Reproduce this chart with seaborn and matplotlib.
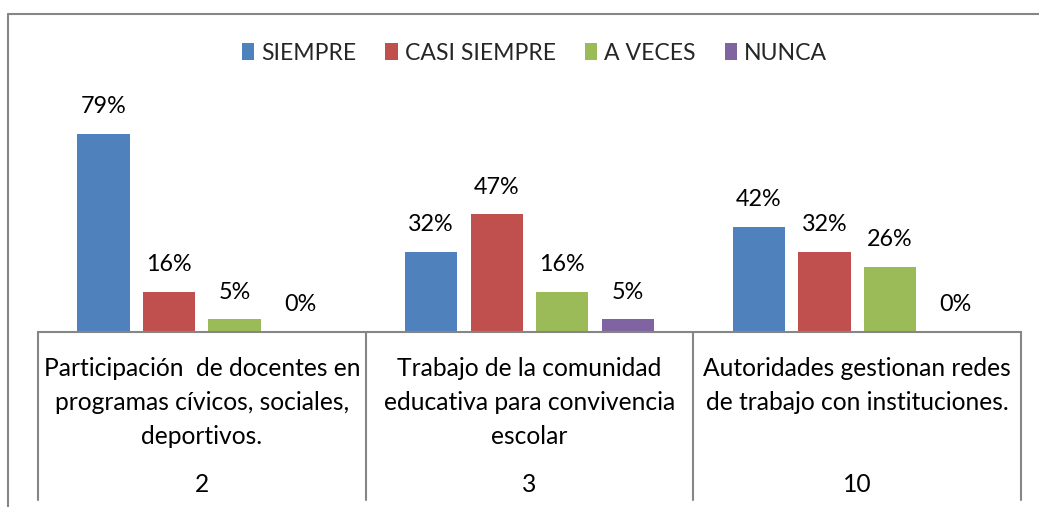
import matplotlib
matplotlib.use("Agg")
import matplotlib.pyplot as plt
import matplotlib.transforms as mtransforms
from matplotlib.patches import Rectangle
from matplotlib.lines import Line2D
import seaborn as sns
import pandas as pd

# Survey results per item (percent of respondents)
categories = [
    "Participación  de docentes en\nprogramas cívicos, sociales,\ndeportivos.",
    "Trabajo de la comunidad\neducativa para convivencia\nescolar",
    "Autoridades gestionan redes\nde trabajo con instituciones.",
]
item_numbers = ["2", "3", "10"]
series_names = ["SIEMPRE", "CASI SIEMPRE", "A VECES", "NUNCA"]
siempre = [79, 32, 42]
casi_siempre = [16, 47, 32]
a_veces = [5, 16, 26]
nunca = [0, 5, 0]
colors = ["#4F81BD", "#C0504D", "#9BBB59", "#8064A2"]

rows = []
for name, vals in zip(series_names, [siempre, casi_siempre, a_veces, nunca]):
    for cat, v in zip(categories, vals):
        rows.append({"categoria": cat, "respuesta": name, "valor": v})
df = pd.DataFrame(rows)

sns.set_theme(style="white")
plt.rcParams["font.family"] = ["Lato", "DejaVu Sans"]

W, H = 1039, 507
fig = plt.figure(figsize=(W / 100, H / 100), dpi=100)
ax_left, ax_right, ax_bottom_px = 38, 1021, 332
ymax = 90
px_per_unit = 2.506
ax_top_px = ax_bottom_px - ymax * px_per_unit
ax = fig.add_axes([ax_left / W, 1 - ax_bottom_px / H,
                   (ax_right - ax_left) / W, (ax_bottom_px - ax_top_px) / H])

sns.barplot(data=df, x="categoria", y="valor", hue="respuesta",
            hue_order=series_names, order=categories, palette=colors,
            width=0.8, gap=0.2, saturation=1, ax=ax, legend=False,
            edgecolor="none")

ax.set_xlim(-0.5, len(categories) - 0.5)
ax.set_ylim(0, ymax)
ax.set_xlabel("")
ax.set_ylabel("")
ax.set_xticks([])
ax.set_yticks([])
for s in ["top", "left", "right"]:
    ax.spines[s].set_visible(False)
ax.spines["bottom"].set_color("#868686")
ax.spines["bottom"].set_linewidth(1.5)

# Value labels above each bar
fs_val = 16.8
fs_cat = 17.7
fs_leg = 16.6
for cont in ax.containers:
    for bar in cont:
        h = bar.get_height()
        ax.annotate(f"{h:.0f}%", (bar.get_x() + bar.get_width() / 2, h),
                    xytext=(0, 19.5), textcoords="offset points",
                    ha="center", va="center", fontsize=fs_val, color="#000000")

# Two-level category axis
trans = mtransforms.blended_transform_factory(ax.transData, ax.transAxes)
axis_h_px = ax_bottom_px - ax_top_px


def px_to_axes(y_px):
    return -(y_px - ax_bottom_px) / axis_h_px


for i in range(len(categories) + 1):
    ax.add_line(Line2D([i - 0.5, i - 0.5], [0, px_to_axes(500)],
                       transform=trans, color="#868686", lw=1.5, clip_on=False))
for i, (cat, num) in enumerate(zip(categories, item_numbers)):
    for k, line in enumerate(cat.split("\n")):
        ax.text(i, px_to_axes(368 + 34 * k), line, transform=trans,
                ha="center", va="center", fontsize=fs_cat, color="#000000")
    ax.text(i, px_to_axes(484), num, transform=trans,
            ha="center", va="center", fontsize=fs_cat, color="#000000")

# Legend
handles = [Rectangle((0, 0), 1, 1, facecolor=c, edgecolor="none") for c in colors]
fig.legend(handles, series_names, loc="center", bbox_to_anchor=(534.5 / W, 1 - 53 / H),
           ncol=4, frameon=False, fontsize=fs_leg, handlelength=0.55, handleheight=0.7,
           handletextpad=0.3, columnspacing=1.25, borderaxespad=0)

# Chart frame (top and left edges)
frame_top = 1 - 13.5 / H
fig.add_artist(Line2D([8 / W, 1.0], [frame_top, frame_top], transform=fig.transFigure,
                      color="#868686", lw=1.5))
fig.add_artist(Line2D([8 / W, 8 / W], [0.0, frame_top], transform=fig.transFigure,
                      color="#868686", lw=1.5))

fig.savefig("out.png", dpi=100)
